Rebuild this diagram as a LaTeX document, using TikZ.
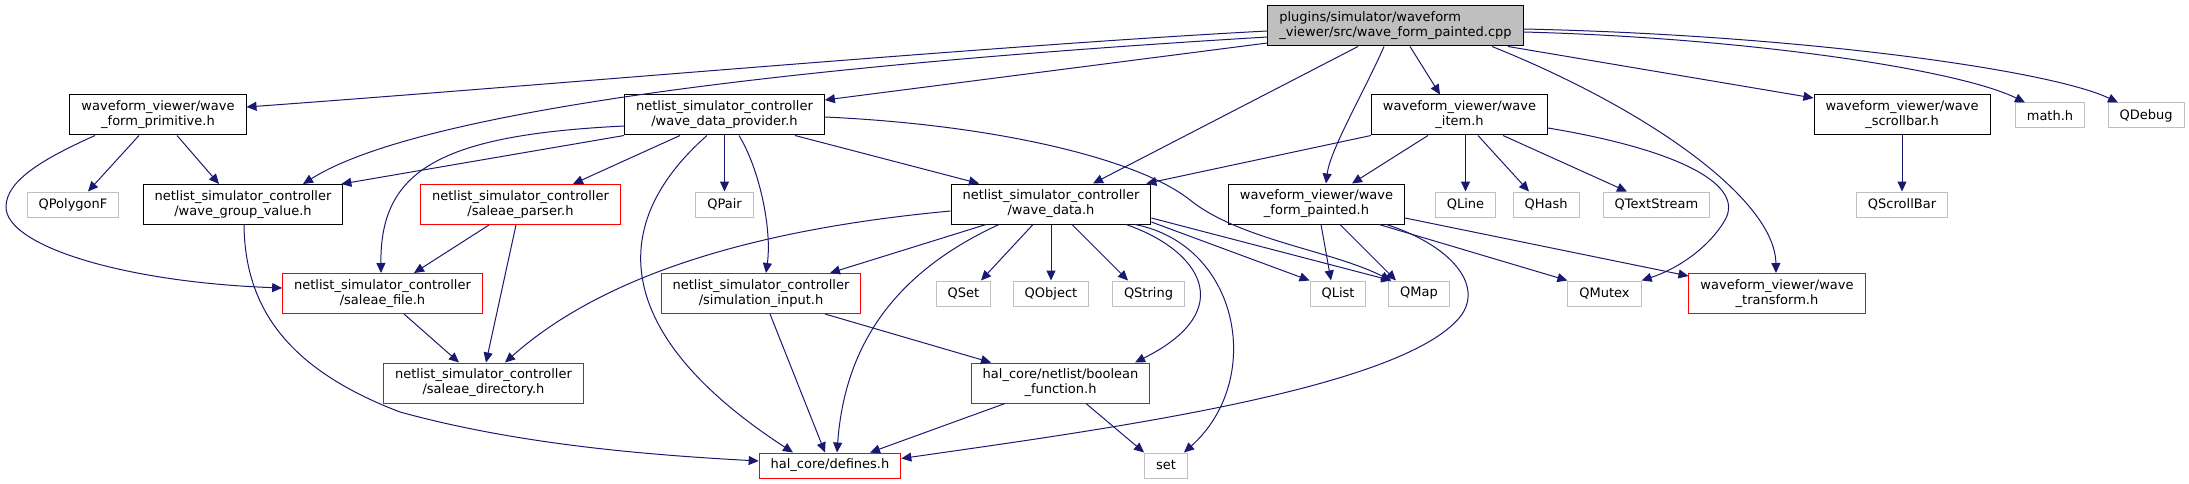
\documentclass[tikz,border=0pt]{standalone}
\usepackage{fontspec}
\setmainfont{DejaVu Sans}
\usetikzlibrary{arrows.meta}
\definecolor{edgeblue}{RGB}{25,25,112}
\definecolor{boxgrey}{RGB}{191,191,191}

\begin{document}
\begin{tikzpicture}[x=1pt, y=-1pt, >={Stealth[inset=0pt, length=10pt, width=9pt]},
    every node/.style={font=\fontsize{13pt}{15pt}\selectfont, inner xsep=11.5pt, inner ysep=0pt, align=center},
    hdr/.style={draw=black, line width=1pt, minimum height=40pt},
    cppfile/.style={hdr, fill=boxgrey, align=left},
    missing/.style={draw=red, line width=1pt, minimum height=40pt},
    sys/.style={draw=boxgrey, line width=1pt, minimum height=25pt},
    dep/.style={->, draw=edgeblue, line width=1pt}]
            \useasboundingbox (0,0) rectangle (2189,484);

            % Source file
            \node[cppfile] (cpp) at (1395.5,26) {plugins/simulator/waveform\\\_viewer/src/wave\_form\_painted.cpp};

            % Row 1
            \node[hdr] (prim) at (158,115) {waveform\_viewer/wave\\\_form\_primitive.h};
            \node[hdr] (prov) at (724.5,115) {netlist\_simulator\_controller\\/wave\_data\_provider.h};
            \node[hdr] (item) at (1459.5,115) {waveform\_viewer/wave\\\_item.h};
            \node[hdr] (scroll) at (1902,115) {waveform\_viewer/wave\\\_scrollbar.h};
            \node[sys] (math) at (2050,115.5) {math.h};
            \node[sys] (qdebug) at (2146,115.5) {QDebug};

            % Row 2
            \node[sys] (qpolyf) at (73,204.5) {QPolygonF};
            \node[hdr] (group) at (243,204.5) {netlist\_simulator\_controller\\/wave\_group\_value.h};
            \node[missing] (parser) at (520.5,204.5) {netlist\_simulator\_controller\\/saleae\_parser.h};
            \node[sys] (qpair) at (724.5,204.5) {QPair};
            \node[hdr] (wdata) at (1051,204) {netlist\_simulator\_controller\\/wave\_data.h};
            \node[hdr] (painted) at (1316.5,204) {waveform\_viewer/wave\\\_form\_painted.h};
            \node[sys] (qline) at (1465.5,204.5) {QLine};
            \node[sys] (qhash) at (1546,204.5) {QHash};
            \node[sys] (qtext) at (1656.5,204.5) {QTextStream};
            \node[sys] (qscroll) at (1902,204.5) {QScrollBar};

            % Row 3
            \node[missing] (sfile) at (382.5,293.5) {netlist\_simulator\_controller\\/saleae\_file.h};
            \node[missing] (siminput) at (761,293.5) {netlist\_simulator\_controller\\/simulation\_input.h};
            \node[sys] (qset) at (963.5,293.5) {QSet};
            \node[sys] (qobject) at (1051,293.5) {QObject};
            \node[sys] (qstring) at (1148.5,293.5) {QString};
            \node[sys] (qlist) at (1338,293.5) {QList};
            \node[sys] (qmap) at (1419,293.5) {QMap};
            \node[sys] (qmutex) at (1604.5,293.5) {QMutex};
            \node[missing] (transform) at (1777,293.5) {waveform\_viewer/wave\\\_transform.h};

            % Rows 4 and 5
            \node[missing] (sdir) at (483.5,383) {netlist\_simulator\_controller\\/saleae\_directory.h};
            \node[missing] (boolf) at (1060.5,383) {hal\_core/netlist/boolean\\\_function.h};
            \node[missing, minimum height=25pt] (defines) at (830,465.5) {hal\_core/defines.h};
            \node[sys] (set) at (1166,465.5) {set};

            % Includes of the source file
            \draw[dep] ([yshift=-5pt]cpp.west) .. controls (1000,45) and (550,85) .. ([yshift=8pt]prim.east);
            \draw[dep] ([yshift=-11pt]cpp.west) .. controls (800,65) and (420,110) .. ([xshift=60pt]group.north);
            \draw[dep] ([yshift=-17pt]cpp.west) -- ([yshift=15pt]prov.east);
            \draw[dep] ([xshift=-37.5pt]cpp.south) -- ([xshift=42pt]wdata.north);
            \draw[dep] ([xshift=-11.5pt]cpp.south) .. controls (1365,90) and (1330,150) .. ([xshift=9.5pt]painted.north);
            \draw[dep] ([xshift=14.5pt]cpp.south) -- ([xshift=-19.5pt]item.north);
            \draw[dep] ([xshift=96.5pt]cpp.south) .. controls (1650,110) and (1775,200) .. ([xshift=-1pt]transform.north);
            \draw[dep] ([xshift=112.5pt]cpp.south) -- ([yshift=17pt]scroll.west);
            \draw[dep] ([yshift=-6pt]cpp.east) .. controls (1750,38) and (1960,70) .. ([xshift=-25pt]math.north);
            \draw[dep] ([yshift=-3pt]cpp.east) .. controls (1800,35) and (2050,70) .. ([xshift=-28pt]qdebug.north);

            % wave_form_primitive.h
            \draw[dep] ([xshift=-19pt]prim.south) -- ([xshift=15pt]qpolyf.north);
            \draw[dep] ([xshift=19pt]prim.south) -- ([xshift=-24pt]group.north);
            \draw[dep] ([xshift=-63pt]prim.south) .. controls (45,158) and (6,180) .. (6,207)
                .. controls (6,245) and (120,282) .. ([yshift=5.5pt]sfile.west);

            % wave_data_provider.h
            \draw[dep] (prov.south west) -- ([xshift=-2pt]group.north east);
            \draw[dep] ([yshift=-11pt]prov.west) .. controls (440,135) and (380,170) .. ([xshift=-1.5pt]sfile.north);
            \draw[dep] ([xshift=-44.5pt]prov.south) -- ([xshift=52.5pt]parser.north);
            \draw[dep] (prov.south) -- (qpair.north);
            \draw[dep] ([xshift=-17.5pt]prov.south) .. controls (600,230) and (620,340) .. ([xshift=-37pt]defines.north);
            \draw[dep] ([xshift=14.5pt]prov.south) .. controls (760,170) and (772,230) .. ([xshift=5pt]siminput.north);
            \draw[dep] ([xshift=70.5pt]prov.south) -- ([xshift=-72pt]wdata.north);
            \draw[dep] ([yshift=-2pt]prov.east) .. controls (1000,125) and (1140,160) .. (1190,200)
                .. controls (1240,240) and (1330,250) .. ([xshift=3pt]qmap.north west);

            % wave_item.h
            \draw[dep] (item.south west) -- ([xshift=-5pt]wdata.north east);
            \draw[dep] ([xshift=-31.5pt]item.south) -- ([xshift=35.5pt]painted.north);
            \draw[dep] ([xshift=6pt]item.south) -- (qline.north);
            \draw[dep] ([xshift=18.5pt]item.south) -- ([xshift=-17pt]qhash.north);
            \draw[dep] ([xshift=43.5pt]item.south) -- ([xshift=-29.5pt]qtext.north);
            \draw[dep] ([yshift=-13pt]item.east) .. controls (1680,150) and (1745,185) .. (1725,220)
                .. controls (1710,246) and (1680,268) .. (qmutex.north east);

            % wave_scrollbar.h
            \draw[dep] (scroll.south) -- (qscroll.north);

            % wave_data.h
            \draw[dep] ([yshift=-7pt]wdata.west) .. controls (800,225) and (620,260) .. ([xshift=21.5pt]sdir.north);
            \draw[dep] ([xshift=-65pt]wdata.south) -- ([xshift=69pt]siminput.north);
            \draw[dep] ([xshift=-52pt]wdata.south) .. controls (900,270) and (845,340) .. ([xshift=7pt]defines.north);
            \draw[dep] ([xshift=-18pt]wdata.south) -- ([xshift=17.5pt]qset.north);
            \draw[dep] (wdata.south) -- (qobject.north);
            \draw[dep] ([xshift=21pt]wdata.south) -- ([xshift=-20.5pt]qstring.north);
            \draw[dep] ([xshift=75pt]wdata.south) .. controls (1200,250) and (1240,310) .. ([xshift=74.5pt]boolf.north);
            \draw[dep] ([xshift=84pt]wdata.south) .. controls (1240,245) and (1265,380) .. ([xshift=18pt]set.north);
            \draw[dep] ([yshift=-18pt]wdata.east) -- (qlist.north west);
            \draw[dep] ([yshift=-14pt]wdata.east) -- ([xshift=3pt]qmap.north west);

            % wave_form_painted.h
            \draw[dep] ([xshift=4.5pt]painted.south) -- ([xshift=-7pt]qlist.north);
            \draw[dep] ([xshift=23.5pt]painted.south) -- ([xshift=-23pt]qmap.north);
            \draw[dep] ([xshift=62.5pt]painted.south) -- (qmutex.north west);
            \draw[dep] ([yshift=-14pt]painted.east) -- ([yshift=-3pt]transform.north west);
            \draw[dep] ([xshift=70pt]painted.south) .. controls (1450,245) and (1485,285) .. (1460,317)
                .. controls (1400,390) and (1100,430) .. ([yshift=7pt]defines.east);

            % Lower headers
            \draw[dep] ([xshift=9pt]siminput.south) -- ([xshift=-5pt]defines.north);
            \draw[dep] ([xshift=64pt]siminput.south) -- ([xshift=-69.5pt]boolf.north);
            \draw[dep] ([xshift=-31.5pt]parser.south) -- ([xshift=31.5pt]sfile.north);
            \draw[dep] ([xshift=-4.5pt]parser.south) -- ([xshift=2.5pt]sdir.north);
            \draw[dep] ([xshift=21.5pt]sfile.south) -- ([xshift=-24.5pt]sdir.north);
            \draw[dep] ([xshift=1pt]group.south) .. controls (245,310) and (290,370) .. (400,412)
                .. controls (520,445) and (650,455) .. ([yshift=4.5pt]defines.west);
            \draw[dep] ([xshift=-55.5pt]boolf.south) -- ([xshift=40pt]defines.north);
            \draw[dep] ([xshift=25.5pt]boolf.south) -- (set.north west);
        \end{tikzpicture}
\end{document}
